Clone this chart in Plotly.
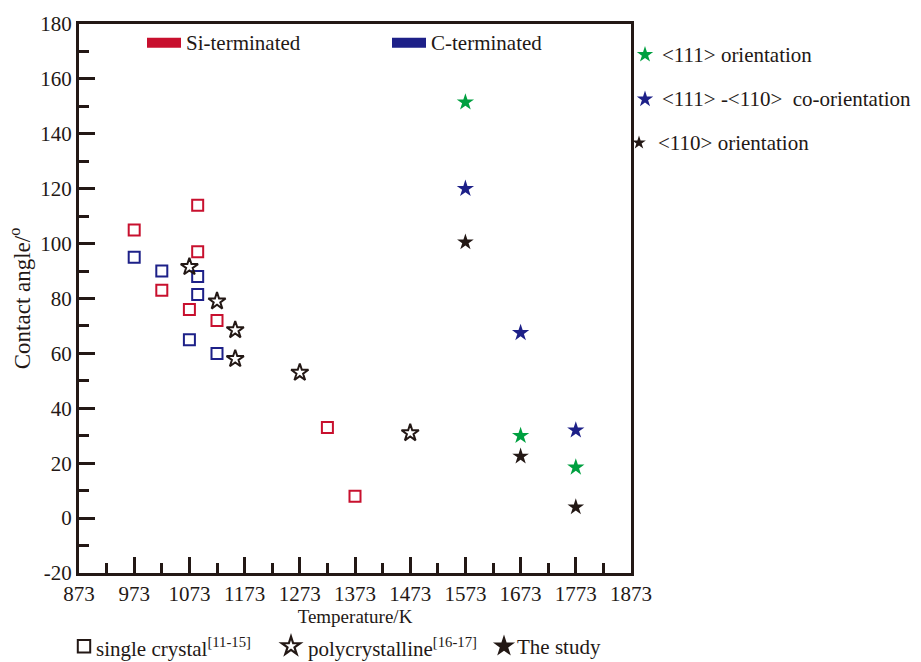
import math
import plotly.graph_objects as go

# ---------------- data ----------------
si_T = [973, 1023, 1088, 1088, 1073, 1123, 1323, 1373]
si_angle = [105, 83, 114, 97, 76, 72, 33, 8]

c_T = [973, 1023, 1088, 1088, 1073, 1123]
c_angle = [95, 90, 88, 81.5, 65, 60]

poly_T = [1073, 1123, 1156, 1156, 1273, 1473]
poly_angle = [91.5, 79, 68.5, 58, 53, 31]

study_T = [1573, 1673, 1773]
o111 = [151.5, 30, 18.5]
o111_110 = [120, 67.5, 32]
o110 = [100.5, 22.5, 4]

x_ticks = [873, 973, 1073, 1173, 1273, 1373, 1473, 1573, 1673, 1773, 1873]
y_ticks = [-20, 0, 20, 40, 60, 80, 100, 120, 140, 160, 180]

# ---------------- style ----------------
RED = "#c8102e"
BLUE = "#1d2088"
GREEN = "#00a040"
DARK = "#231815"
SERIF = "Liberation Serif, Times New Roman, serif"

W, H = 921, 662
ML, MR, MT, MB = 79, 290, 18, 89
PW, PH = W - ML - MR, H - MT - MB


def px(x):
    return (x - ML) / PW


def py(y):
    return (H - MB - y) / PH


def star_path(R):
    pts = []
    for k in range(10):
        ang = math.pi / 2 + k * math.pi / 5
        rad = R if k % 2 == 0 else R * 0.382
        pts.append(f"{rad * math.cos(ang):.2f},{rad * math.sin(ang):.2f}")
    return "M " + " L ".join(pts) + " Z"


def glyph_star(cx, cy, R, fill, line_w=0, line_col=None):
    return dict(type="path", xref="paper", yref="paper", xsizemode="pixel", ysizemode="pixel",
                xanchor=px(cx), yanchor=py(cy), path=star_path(R), fillcolor=fill,
                line=dict(width=line_w, color=line_col or fill))


fig = go.Figure()

fig.add_trace(go.Scatter(x=si_T, y=si_angle, mode="markers", name="Si-terminated",
                         marker=dict(symbol="square-open", size=11, color=RED, line=dict(width=2, color=RED))))
fig.add_trace(go.Scatter(x=c_T, y=c_angle, mode="markers", name="C-terminated",
                         marker=dict(symbol="square-open", size=11, color=BLUE, line=dict(width=2, color=BLUE))))
fig.add_trace(go.Scatter(x=poly_T, y=poly_angle, mode="markers", name="polycrystalline",
                         marker=dict(symbol="star-open", size=13, color=DARK, line=dict(width=2, color=DARK))))
fig.add_trace(go.Scatter(x=study_T, y=o111, mode="markers", name="<111> orientation",
                         marker=dict(symbol="star", size=13, color=GREEN, line=dict(width=0))))
fig.add_trace(go.Scatter(x=study_T, y=o111_110, mode="markers", name="<111>-<110> co-orientation",
                         marker=dict(symbol="star", size=13, color=BLUE, line=dict(width=0))))
fig.add_trace(go.Scatter(x=study_T, y=o110, mode="markers", name="<110> orientation",
                         marker=dict(symbol="star", size=12.5, color=DARK, line=dict(width=0))))

axis_common = dict(
    showline=True, linewidth=3, linecolor=DARK, mirror=True,
    ticks="inside", ticklen=16, tickwidth=2.5, tickcolor=DARK,
    showgrid=False, zeroline=False,
    tickfont=dict(family=SERIF, size=21, color=DARK),
)

fig.update_xaxes(
    range=[873, 1873], tickmode="array", tickvals=x_ticks, ticktext=[str(v) for v in x_ticks],
    minor=dict(ticks="inside", ticklen=10, tickwidth=2.5, tickcolor=DARK, dtick=50, tick0=873),
    title=dict(text="Temperature/K", font=dict(family=SERIF, size=19, color=DARK), standoff=2),
    **axis_common,
)
fig.update_yaxes(
    range=[-20, 180], tickmode="array", tickvals=y_ticks, ticktext=[str(v) for v in y_ticks],
    minor=dict(ticks="inside", ticklen=10, tickwidth=2.5, tickcolor=DARK, dtick=10, tick0=0),
    title=dict(text="Contact angle/<sup>o</sup>", font=dict(family=SERIF, size=23, color=DARK), standoff=4),
    **axis_common,
)

annotations = []
shapes = []

# top legend (Si / C terminated)
for x0, x1, col, label, tx in [(147, 181, RED, "Si-terminated", 184), (392, 426, BLUE, "C-terminated", 429)]:
    shapes.append(dict(type="rect", xref="paper", yref="paper", x0=px(x0), x1=px(x1), y0=py(42), y1=py(32),
                       fillcolor=col, line=dict(width=0)))
    annotations.append(dict(xref="paper", yref="paper", x=px(tx), y=py(37), xanchor="left", yanchor="middle",
                            text=label, showarrow=False, font=dict(family=SERIF, size=21, color=DARK)))

# right legend (orientations)
for gx, gy, gcol, R, tx, label in [
    (645, 49, GREEN, 8.6, 660, "&lt;111&gt; orientation"),
    (645, 94, BLUE, 8.6, 660, "&lt;111&gt; -&lt;110&gt;\u00a0 co-orientation"),
    (639, 138, DARK, 7.2, 656, "&lt;110&gt; orientation"),
]:
    shapes.append(glyph_star(gx, gy, R, gcol))
    annotations.append(dict(xref="paper", yref="paper", x=px(tx), y=py(gy), xanchor="left", yanchor="middle",
                            text=label, showarrow=False, font=dict(family=SERIF, size=21, color=DARK)))

# bottom legend (data sources)
shapes.append(dict(type="rect", xref="paper", yref="paper", xsizemode="pixel", ysizemode="pixel",
                   xanchor=px(84), yanchor=py(647), x0=-6.2, x1=6.2, y0=-6.2, y1=6.2,
                   fillcolor="rgba(0,0,0,0)", line=dict(width=2, color=DARK)))
shapes.append(glyph_star(291, 647, 9.6, "white", 2.2, DARK))
shapes.append(glyph_star(504, 647, 11.6, DARK))
for tx, label in [
    (94, "single crystal<sup>[11-15]</sup>"),
    (306, "polycrystalline<sup>[16-17]</sup>"),
    (515, "The study"),
]:
    annotations.append(dict(xref="paper", yref="paper", x=px(tx), y=py(648), xanchor="left", yanchor="middle",
                            text=label, showarrow=False, font=dict(family=SERIF, size=21, color=DARK)))

fig.update_layout(
    width=W, height=H,
    margin=dict(l=ML, r=MR, t=MT, b=MB),
    paper_bgcolor="white", plot_bgcolor="white",
    showlegend=False,
    annotations=annotations, shapes=shapes,
    font=dict(family=SERIF, color=DARK),
)

post = (
    "document.body.style.margin='0px';document.body.style.padding='0px';"
    "document.body.style.overflow='hidden';"
    "var d=document.getElementById('{plot_id}');"
    "d.style.position='fixed';d.style.left='0px';d.style.top='0px';"
)
fig.write_html("out.html", post_script=post, config={"displayModeBar": False})
